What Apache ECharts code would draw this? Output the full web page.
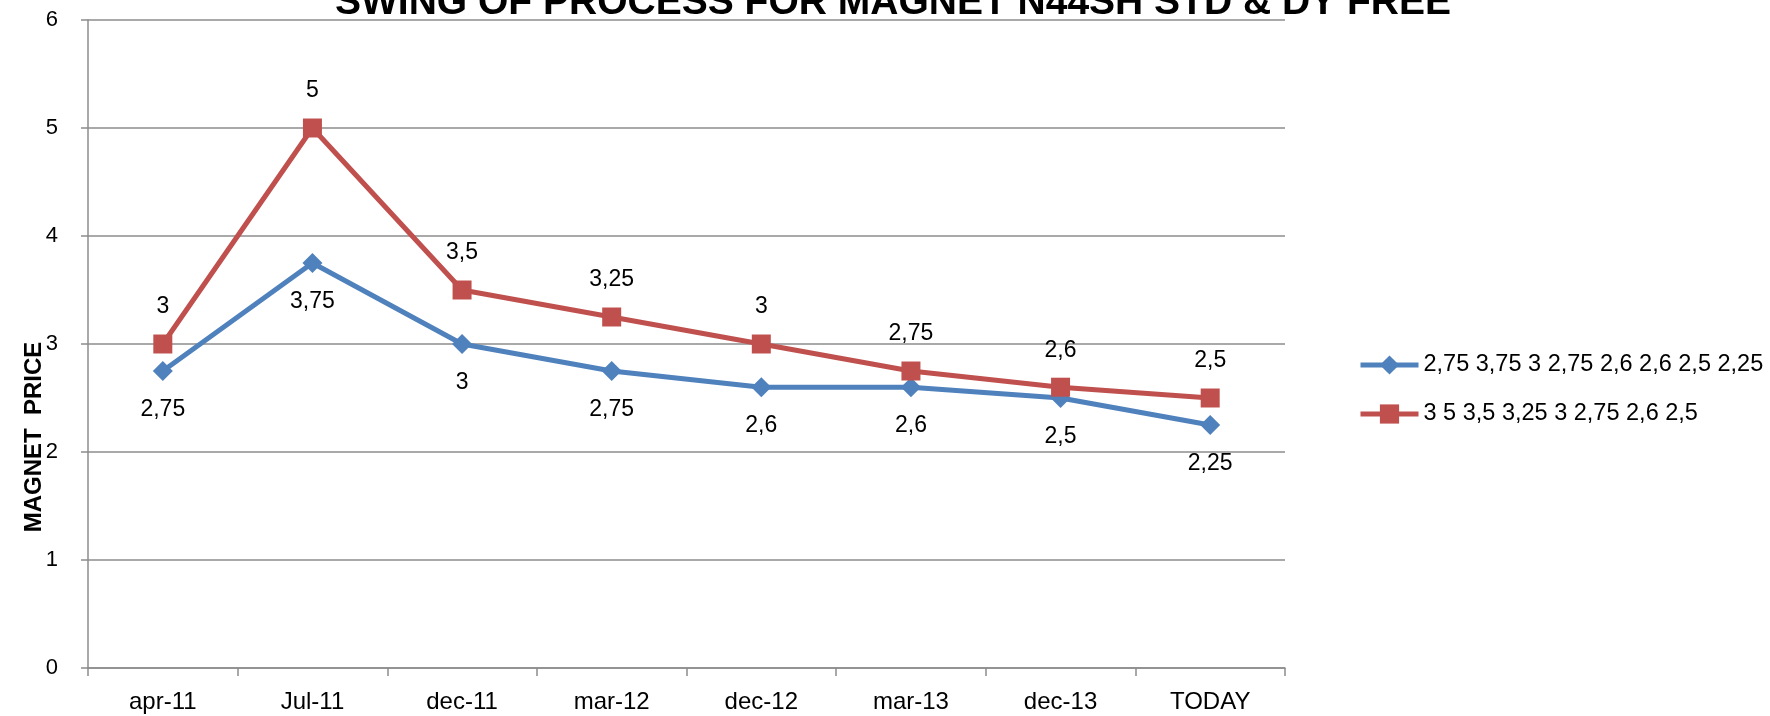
<!DOCTYPE html>
<html>
<head>
<meta charset="utf-8">
<script src="https://cdn.jsdelivr.net/npm/echarts@6/dist/echarts.min.js"></script>
<style>
  html, body { margin: 0; padding: 0; background: #fff; }
  #chart { width: 1770px; height: 716px; }
</style>
</head>
<body>
<div id="chart"></div>
<script>
const categories = ['apr-11', 'Jul-11', 'dec-11', 'mar-12', 'dec-12', 'mar-13', 'dec-13', 'TODAY']
const stdValues = [2.75, 3.75, 3, 2.75, 2.6, 2.6, 2.5, 2.25]    // blue
const dyFreeValues = [3, 5, 3.5, 3.25, 3, 2.75, 2.6, 2.5]       // red
const yTicks = [0, 1, 2, 3, 4, 5, 6]

const font = 'Liberation Sans, Arial, sans-serif'
const comma = v => String(v).replace('.', ',')
// series names are the value lists, like the original legend
const stdName = stdValues.map(comma).join(' ')
const dyName = dyFreeValues.map(comma).join(' ')

const chart = echarts.init(document.getElementById('chart'))
chart.setOption({
  animation: false,
  title: {
    text: 'SWING OF PROCESS FOR MAGNET N44SH STD & DY FREE',
    left: 893,
    textAlign: 'center',
    top: -16,
    padding: 0,
    textStyle: { fontFamily: font, fontWeight: 'bold', fontSize: 39, color: '#000' }
  },
  grid: { left: 88, right: 485, top: 20, bottom: 48 },
  legend: {
    orient: 'vertical',
    left: 1353,
    top: 348,
    itemWidth: 58,
    itemHeight: 24,
    itemGap: 25,
    lineStyle: { width: 5 },
    textStyle: { fontFamily: font, fontSize: 23.5, color: '#000' },
    data: [stdName, dyName]
  },
  graphic: [{
    type: 'text',
    x: 34,
    y: 437,
    rotation: Math.PI / 2,
    style: {
      text: 'MAGNET  PRICE',
      fontFamily: font, fontWeight: 'bold', fontSize: 24, fill: '#000',
      align: 'center', verticalAlign: 'middle'
    }
  }],
  xAxis: {
    type: 'category',
    data: categories,
    boundaryGap: true,
    axisLine: { lineStyle: { color: '#8c8c8c', width: 1.5 } },
    axisTick: { show: true, length: 8, lineStyle: { color: '#8c8c8c', width: 1.5 } },
    axisLabel: { fontFamily: font, fontSize: 24, color: '#000', margin: 22 }
  },
  yAxis: {
    type: 'value',
    min: yTicks[0],
    max: yTicks[yTicks.length - 1],
    interval: 1,
    axisLine: { show: true, lineStyle: { color: '#8c8c8c', width: 1.5 } },
    axisTick: { show: true, length: 7, lineStyle: { color: '#8c8c8c', width: 1.5 } },
    splitLine: { lineStyle: { color: '#8c8c8c', width: 1.5 } },
    axisLabel: { fontFamily: font, fontSize: 22, color: '#000', margin: 30 }
  },
  series: [{
    name: stdName,
    type: 'line',
    data: stdValues,
    symbol: 'diamond',
    symbolSize: 20,
    itemStyle: { color: '#4F81BD' },
    lineStyle: { color: '#4F81BD', width: 5 },
    label: {
      show: true, position: 'bottom', distance: 17,
      fontFamily: font, fontSize: 23, color: '#000',
      formatter: p => comma(p.value)
    }
  }, {
    name: dyName,
    type: 'line',
    data: dyFreeValues,
    symbol: 'rect',
    symbolSize: 19,
    itemStyle: { color: '#C0504D' },
    lineStyle: { color: '#C0504D', width: 5 },
    label: {
      show: true, position: 'top', distance: 16,
      fontFamily: font, fontSize: 23, color: '#000',
      formatter: p => comma(p.value)
    }
  }]
})
</script>
</body>
</html>
